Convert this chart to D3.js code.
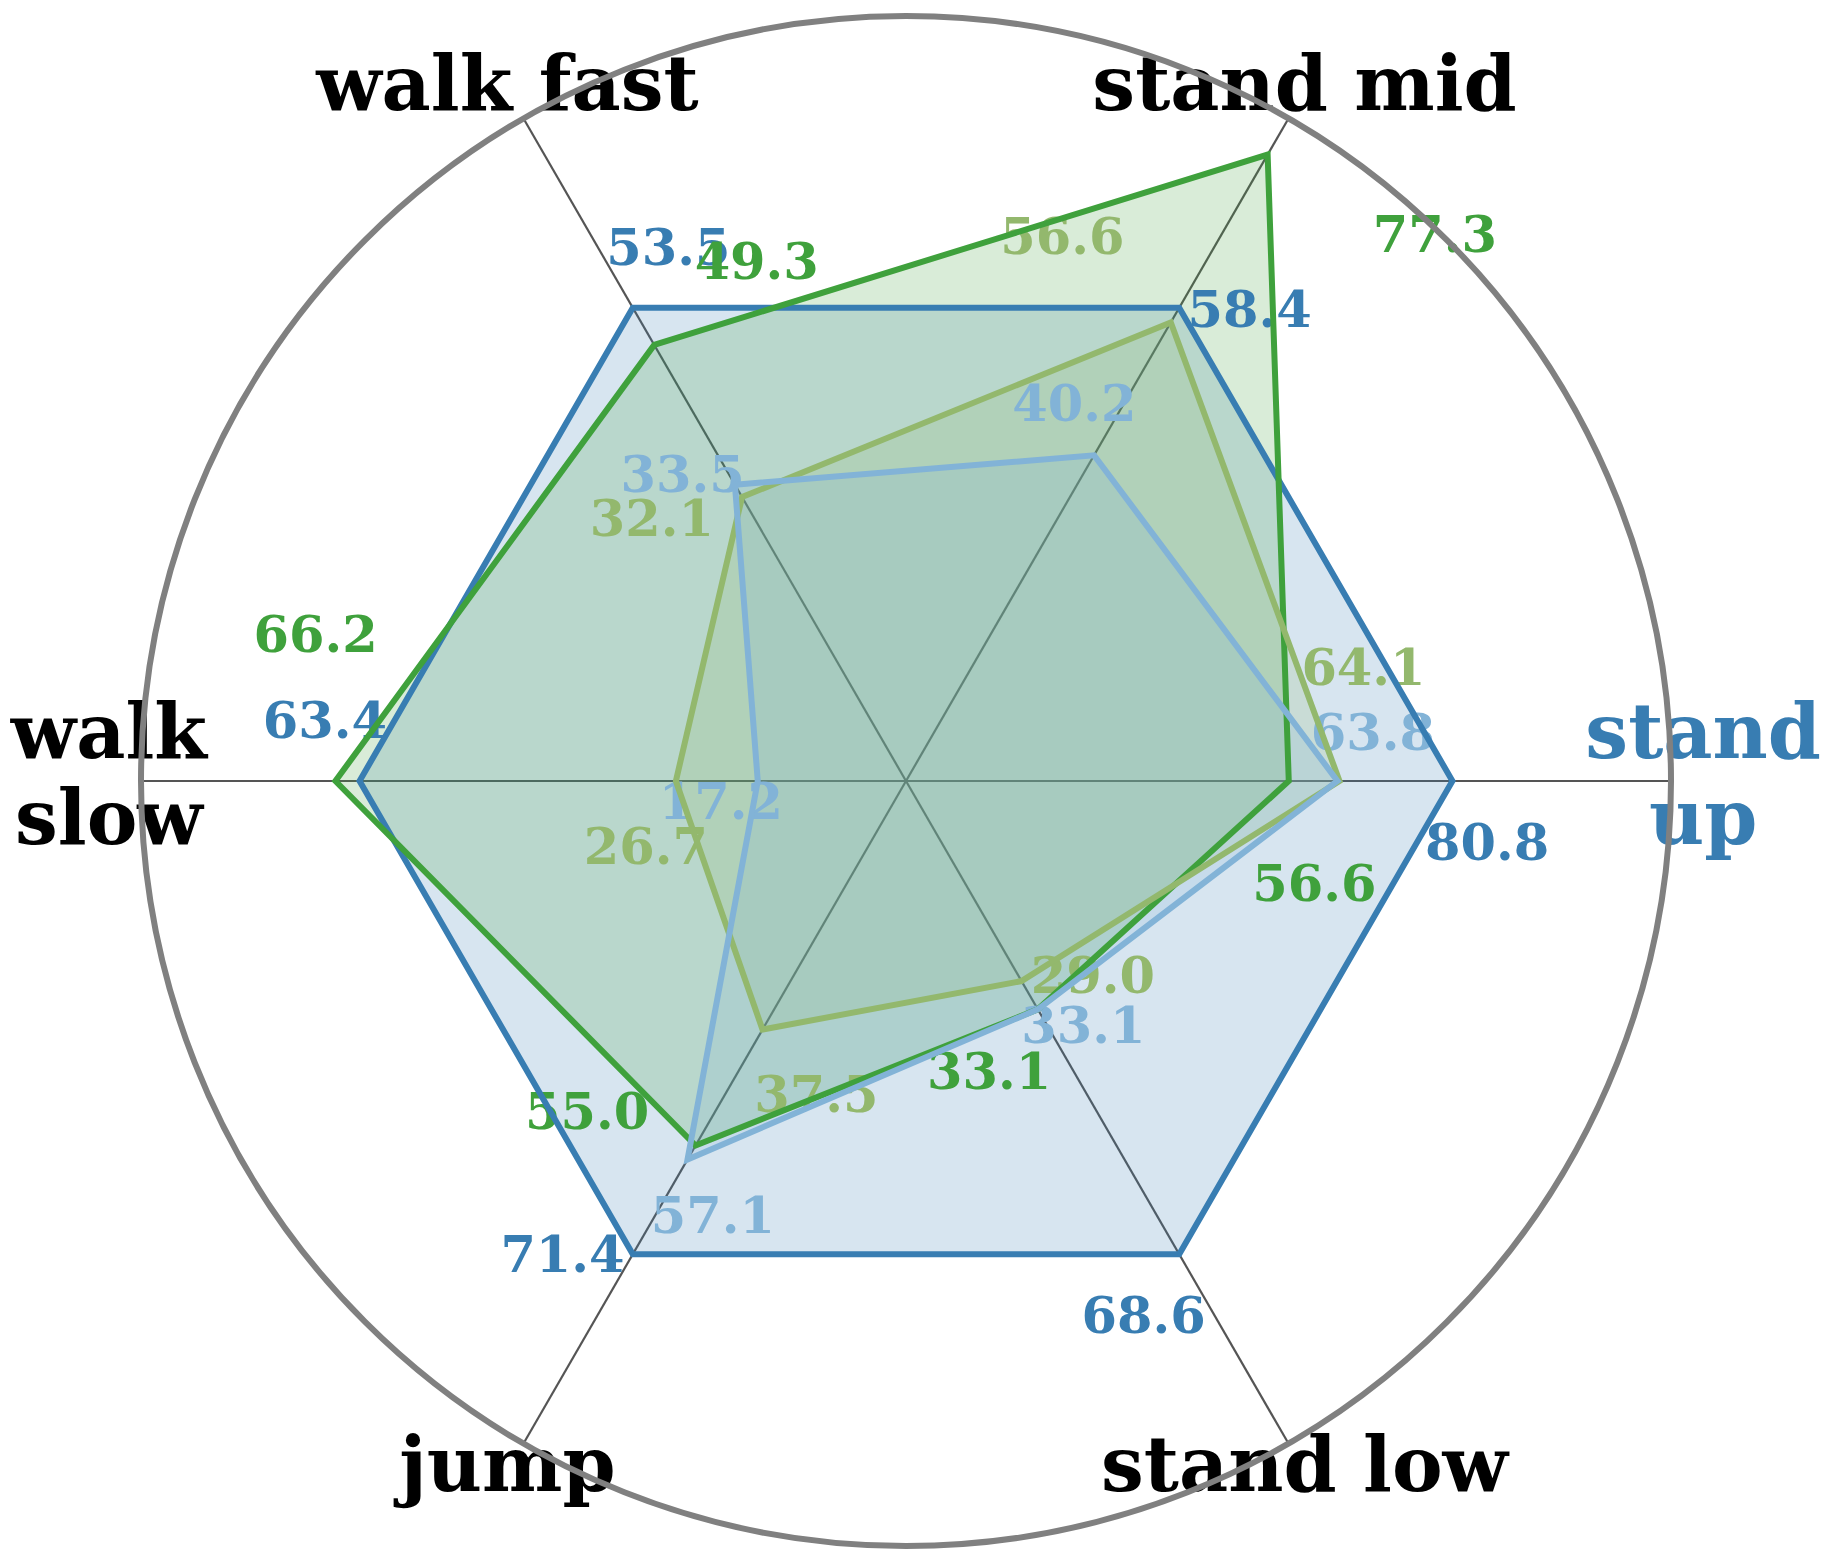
<!DOCTYPE html>
<html>
<head>
<meta charset="utf-8">
<script src="https://cdn.jsdelivr.net/npm/d3@7"></script>
<style>
  html, body { margin: 0; padding: 0; background: #ffffff; }
  svg { display: block; }
  text { font-family: "DejaVu Serif", serif; font-weight: bold; }
</style>
</head>
<body>
<div id="chart"></div>
<script>
// ---- data ----
const categories = ["stand up", "stand mid", "walk fast", "walk slow", "jump", "stand low"];
const categoryLines = [["stand", "up"], ["stand mid"], ["walk fast"], ["walk", "slow"], ["jump"], ["stand low"]];
const seriesNames = ["reference", "series B", "series C", "series D"];
const seriesRef = [80.8, 58.4, 53.5, 63.4, 71.4, 68.6];
const seriesB   = [56.6, 77.3, 49.3, 66.2, 55.0, 33.1];
const seriesC   = [64.1, 56.6, 32.1, 26.7, 37.5, 29.0];
const seriesD   = [63.8, 40.2, 33.5, 17.2, 57.1, 33.1];
const seriesColors = ["#387db2", "#3fa13c", "#93b86d", "#82b3d7"];
const labelAngleOffsets = [-6, -14, 14, 6]; // degrees
const highlightedCategory = "stand up";

const allSeries = [seriesRef, seriesB, seriesC, seriesD].map((vals, k) => ({
  name: seriesNames[k], values: vals, color: seriesColors[k], offset: labelAngleOffsets[k]
}));

// ---- layout ----
const W = 1833, H = 1560;
const cx = 906, cy = 781, R = 765;

const svg = d3.select("#chart").append("svg").attr("width", W).attr("height", H);
const g = svg.append("g").attr("transform", `translate(${cx},${cy})`);

// normalized value = value / reference value on same axis; outer ring = 1.4
const rScale = d3.scaleLinear().domain([0, 1.4]).range([0, R]);
const angleScale = d3.scaleLinear().domain([0, categories.length]).range([0, 2 * Math.PI]);
const toRadial = a => Math.PI / 2 - a;
const px = (a, r) => r * Math.cos(a);
const py = (a, r) => -r * Math.sin(a);

// spokes
g.append("g").selectAll("line").data(categories).join("line")
  .attr("x1", 0).attr("y1", 0)
  .attr("x2", (d, i) => px(angleScale(i), R))
  .attr("y2", (d, i) => py(angleScale(i), R))
  .attr("stroke", "#555555").attr("stroke-width", 2.2);

const radial = d3.lineRadial()
  .angle((d, i) => toRadial(angleScale(i)))
  .radius((d, i) => rScale(d / seriesRef[i]))
  .curve(d3.curveLinearClosed);

// fills
g.append("g").selectAll("path").data(allSeries).join("path")
  .attr("d", s => radial(s.values))
  .attr("fill", s => s.color).attr("fill-opacity", 0.2).attr("stroke", "none");

// value labels
const lab = g.append("g");
allSeries.forEach(s => {
  lab.selectAll(null).data(s.values).join("text")
    .attr("x", (v, i) => px(angleScale(i) + s.offset * Math.PI / 180, rScale(v / seriesRef[i]) + 38))
    .attr("y", (v, i) => py(angleScale(i) + s.offset * Math.PI / 180, rScale(v / seriesRef[i]) + 38))
    .attr("dy", "0.36em")
    .attr("text-anchor", "middle")
    .attr("font-size", 51)
    .attr("fill", s.color)
    .text(v => v.toFixed(1));
});

// lines
g.append("g").selectAll("path").data(allSeries).join("path")
  .attr("d", s => radial(s.values))
  .attr("fill", "none").attr("stroke", s => s.color)
  .attr("stroke-width", 6).attr("stroke-linejoin", "miter");

// category labels
const catR = R * 1.042;
const cat = g.append("g");
categories.forEach((c, i) => {
  const a = angleScale(i);
  const lines = categoryLines[i];
  const lh = 86;
  const t = cat.append("text")
    .attr("x", px(a, catR)).attr("y", py(a, catR))
    .attr("text-anchor", "middle")
    .attr("font-size", 76)
    .attr("fill", c === highlightedCategory ? seriesColors[0] : "#000000");
  lines.forEach((ln, j) => {
    t.append("tspan")
      .attr("x", px(a, catR))
      .attr("y", py(a, catR) + (j - (lines.length - 1) / 2) * lh)
      .attr("dy", "0.26em")
      .text(ln);
  });
});

// outer ring
g.append("circle").attr("r", R).attr("fill", "none")
  .attr("stroke", "#808080").attr("stroke-width", 6);
</script>
</body>
</html>
